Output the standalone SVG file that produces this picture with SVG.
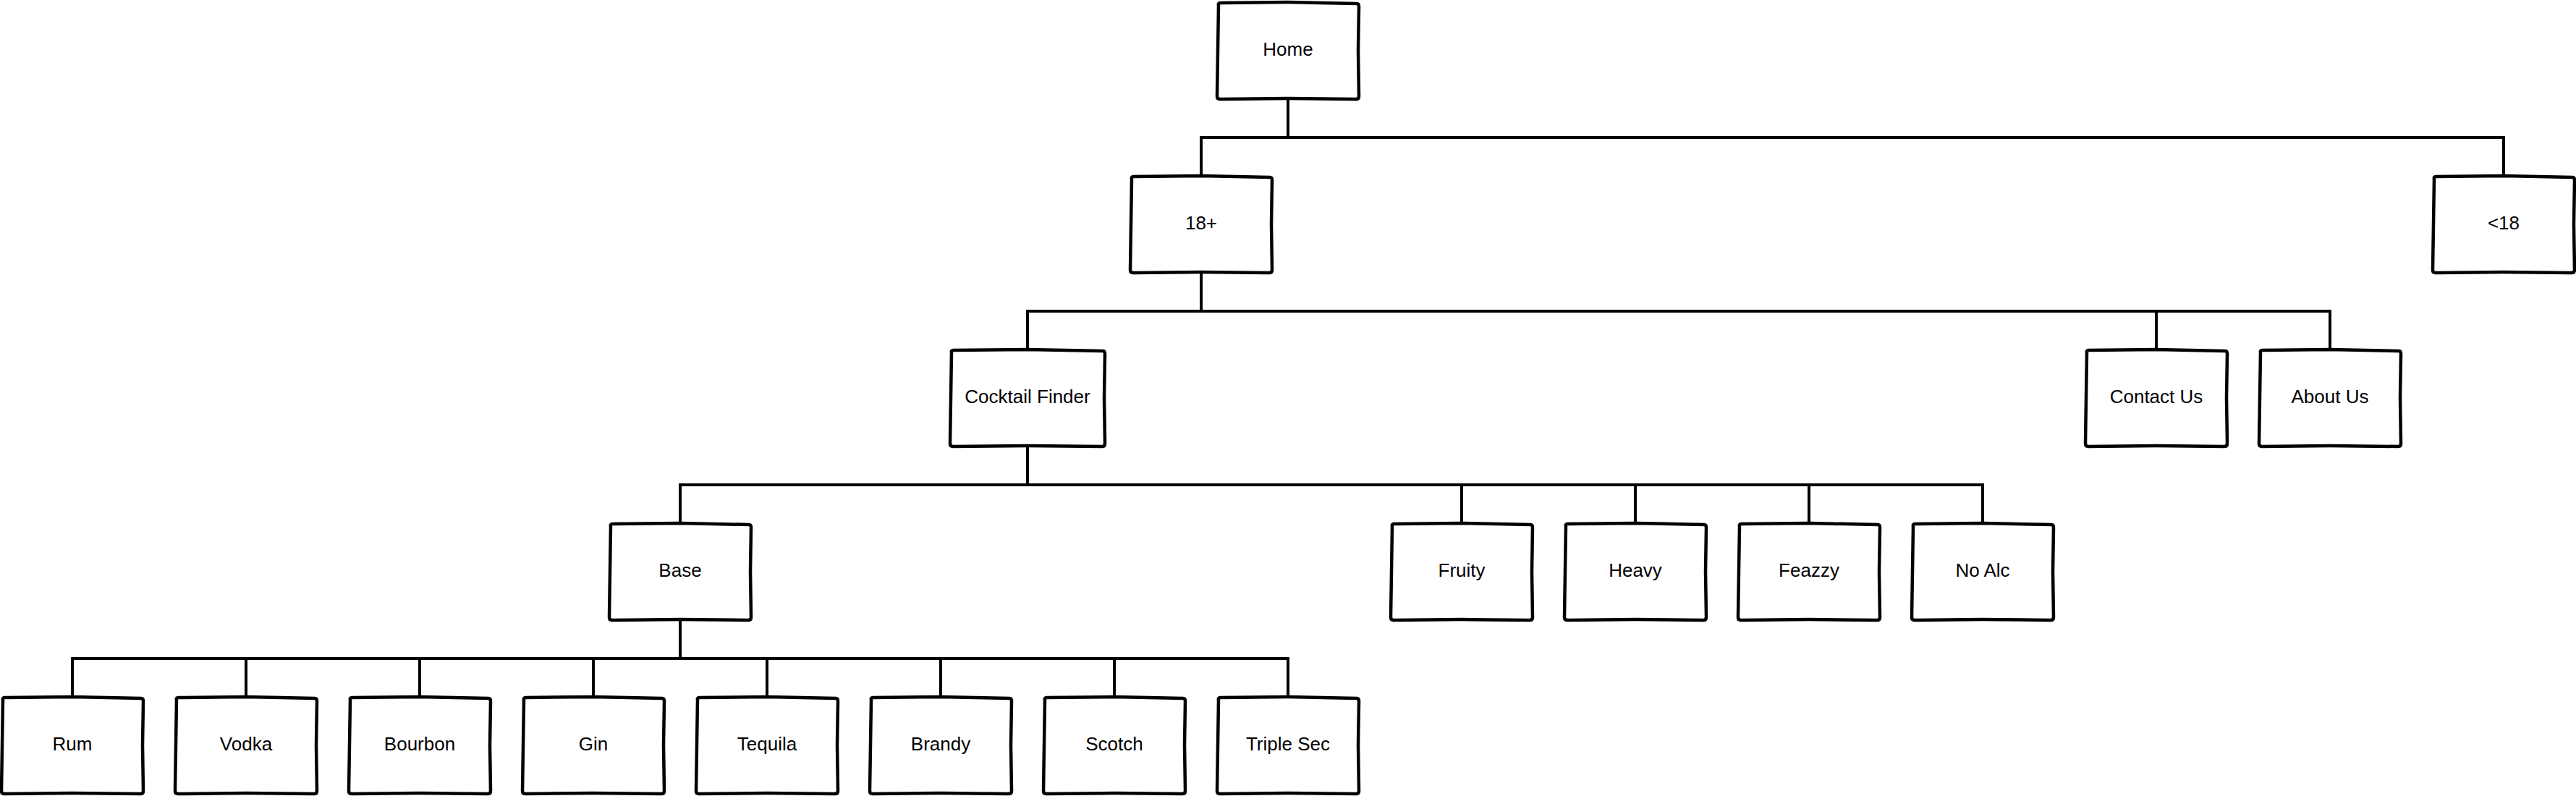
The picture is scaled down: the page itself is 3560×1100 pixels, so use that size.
<svg xmlns="http://www.w3.org/2000/svg" xmlns:xlink="http://www.w3.org/1999/xlink" width="3560" height="1100" viewBox="0 0 3560 1100">
<style>
.bx{fill:#ffffff;stroke:#000000;stroke-width:4.5;stroke-linejoin:round}
.lbl{font-family:"Liberation Sans",Arial,sans-serif;font-size:26px;fill:#000000;text-anchor:middle}
.cn{fill:none;stroke:#000000;stroke-width:4;stroke-linejoin:miter}
</style>
<defs>
<path id="b" d="M2,4 Q1,1 5,1 L98,0 L193,2 Q196,2 196,6 L195,67 L196,130 Q196,134 192,134 L98,133 L4,134 Q0,134 0,130 L1,67 Z"/>
<path id="bw" d="M2,4 Q1,1 5,1 L107,0 L211,2 Q214,2 214,6 L213,67 L214,130 Q214,134 210,134 L107,133 L4,134 Q0,134 0,130 L1,67 Z"/>
</defs>
<rect width="3560" height="1100" fill="#ffffff"/>
<g id="connectors">
<path class="cn" d="M1780,137 V190"/>
<path class="cn" d="M1660,243 V190 H3460 V243"/>
<path class="cn" d="M1660,377 V430"/>
<path class="cn" d="M1420,483 V430 H3220 V483"/>
<path class="cn" d="M2980,430 V483"/>
<path class="cn" d="M1420,617 V670"/>
<path class="cn" d="M940,723 V670 H2740 V723"/>
<path class="cn" d="M2020,670 V723 M2260,670 V723 M2500,670 V723"/>
<path class="cn" d="M940,857 V910"/>
<path class="cn" d="M100,963 V910 H1780 V963"/>
<path class="cn" d="M340,910 V963 M580,910 V963 M820,910 V963 M1060,910 V963 M1300,910 V963 M1540,910 V963"/>
</g>
<g id="home"><use xlink:href="#b" class="bx" x="1682" y="3"/><text class="lbl" x="1780" y="77">Home</text></g>
<g id="adult"><use xlink:href="#b" class="bx" x="1562" y="243"/><text class="lbl" x="1660" y="317">18+</text></g>
<g id="minor"><use xlink:href="#b" class="bx" x="3362" y="243"/><text class="lbl" x="3460" y="317">&lt;18</text></g>
<g id="cocktail-finder"><use xlink:href="#bw" class="bx" x="1313" y="483"/><text class="lbl" x="1420" y="557">Cocktail Finder</text></g>
<g id="contact-us"><use xlink:href="#b" class="bx" x="2882" y="483"/><text class="lbl" x="2980" y="557">Contact Us</text></g>
<g id="about-us"><use xlink:href="#b" class="bx" x="3122" y="483"/><text class="lbl" x="3220" y="557">About Us</text></g>
<g id="base"><use xlink:href="#b" class="bx" x="842" y="723"/><text class="lbl" x="940" y="797">Base</text></g>
<g id="fruity"><use xlink:href="#b" class="bx" x="1922" y="723"/><text class="lbl" x="2020" y="797">Fruity</text></g>
<g id="heavy"><use xlink:href="#b" class="bx" x="2162" y="723"/><text class="lbl" x="2260" y="797">Heavy</text></g>
<g id="feazzy"><use xlink:href="#b" class="bx" x="2402" y="723"/><text class="lbl" x="2500" y="797">Feazzy</text></g>
<g id="no-alc"><use xlink:href="#b" class="bx" x="2642" y="723"/><text class="lbl" x="2740" y="797">No Alc</text></g>
<g id="rum"><use xlink:href="#b" class="bx" x="2" y="963"/><text class="lbl" x="100" y="1037">Rum</text></g>
<g id="vodka"><use xlink:href="#b" class="bx" x="242" y="963"/><text class="lbl" x="340" y="1037">Vodka</text></g>
<g id="bourbon"><use xlink:href="#b" class="bx" x="482" y="963"/><text class="lbl" x="580" y="1037">Bourbon</text></g>
<g id="gin"><use xlink:href="#b" class="bx" x="722" y="963"/><text class="lbl" x="820" y="1037">Gin</text></g>
<g id="tequila"><use xlink:href="#b" class="bx" x="962" y="963"/><text class="lbl" x="1060" y="1037">Tequila</text></g>
<g id="brandy"><use xlink:href="#b" class="bx" x="1202" y="963"/><text class="lbl" x="1300" y="1037">Brandy</text></g>
<g id="scotch"><use xlink:href="#b" class="bx" x="1442" y="963"/><text class="lbl" x="1540" y="1037">Scotch</text></g>
<g id="triple-sec"><use xlink:href="#b" class="bx" x="1682" y="963"/><text class="lbl" x="1780" y="1037">Triple Sec</text></g>
</svg>
